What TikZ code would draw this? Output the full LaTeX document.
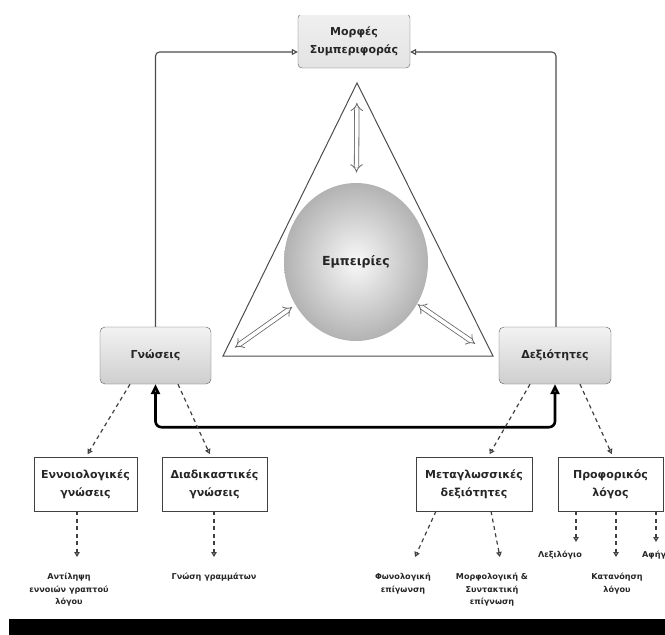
\documentclass[tikz,border=0pt]{standalone}
\usepackage{fontspec}
\setmainfont{DejaVu Sans}
\usepackage{xcolor}
\usepackage{tikz}
\usetikzlibrary{arrows.meta,calc,shapes.geometric}

\definecolor{boxtext}{HTML}{262626}
\tikzset{
  topbox/.style={draw=black!65, rounded corners=4pt, top color=gray!12, bottom color=gray!22,
    minimum width=112pt, minimum height=54pt, align=center, text=boxtext,
    font=\fontsize{11}{18}\selectfont\bfseries},
  knowbox/.style={draw=black!65, rounded corners=5pt, top color=gray!10, bottom color=gray!38,
    minimum width=111pt, minimum height=57pt, align=center, text=boxtext,
    font=\fontsize{11}{13}\selectfont\bfseries},
  subbox/.style={draw=black!75, minimum height=54pt, align=center, text=boxtext,
    font=\fontsize{11}{18}\selectfont\bfseries},
  leaf/.style={inner sep=0pt, align=center, text=boxtext,
    font=\fontsize{8.1}{12.5}\selectfont\bfseries},
  link/.style={draw=black!70, line width=1.1pt, rounded corners=4pt, -{Triangle[open,length=6pt,width=6pt]}},
  feedback/.style={line width=2.6pt, rounded corners=6pt,
    {Triangle[open,length=10pt,width=9pt]}-{Triangle[open,length=10pt,width=9pt]}},
  dasharrow/.style={draw=black!75, line width=1.2pt, dash pattern=on 4pt off 3.5pt,
    -{Triangle[open,length=5pt,width=5.5pt]}, shorten >=3pt},
  hollow/.style={draw=black!60, double=white, double distance=3.6pt, line width=0.8pt,
    {Implies}-{Implies}}
}

\begin{document}
\begin{tikzpicture}[x=1pt,y=-1pt]
    \useasboundingbox (0,0) rectangle (665,635);
    \clip (0,15) rectangle (665,635);

    \node[topbox] (morfes) at (354,41) {Μορφές\\Συμπεριφοράς};
    \node[knowbox] (gnoseis) at (155.5,355.5) {Γνώσεις};
    \node[knowbox, minimum width=112pt] (dexiotites) at (555,355.5) {Δεξιότητες};

    \coordinate (apex) at (357,83);
    \coordinate (bl) at (223,356);
    \coordinate (br) at (493,356);
    \draw[black!70, line width=1pt] (apex) -- (bl) -- (br) -- cycle;
    \node[ellipse, minimum width=144pt, minimum height=158pt, shading=radial,
      inner color=gray!5, outer color=gray!60, text=boxtext,
      font=\fontsize{12.5}{14}\selectfont\bfseries] (emp) at (356,262) {Εμπειρίες};
    \draw[hollow] ($(apex)!0.11!(emp)$) -- ($(apex)!0.5!(emp)$);
    \draw[hollow] ($(bl)!0.09!(emp)$) -- ($(bl)!0.52!(emp)$);
    \draw[hollow] ($(br)!0.13!(emp)$) -- ($(br)!0.55!(emp)$);

    \draw[link] (gnoseis.north) |- ([yshift=-11pt]morfes.west);
    \draw[link] ([xshift=1pt]dexiotites.north) |- ([yshift=-11pt]morfes.east);
    \draw[feedback] (gnoseis.south) -- ++(0,43) -| (dexiotites.south);

    \node[subbox, minimum width=103pt] (ennoiol) at (85.5,484) {Εννοιολογικές\\γνώσεις};
    \node[subbox, minimum width=105pt] (diadik) at (214.5,484) {Διαδικαστικές\\γνώσεις};
    \node[subbox, minimum width=116pt] (metagl) at (474,484) {Μεταγλωσσικές\\δεξιότητες};
    \node[subbox, minimum width=105pt] (proforikos) at (610.5,484) {Προφορικός\\λόγος};

    \draw[dasharrow] ([xshift=-25.5pt]gnoseis.south) -- ([xshift=0.5pt]ennoiol.north);
    \draw[dasharrow] ([xshift=22.5pt]gnoseis.south) -- ([xshift=-3.5pt]diadik.north);
    \draw[dasharrow] ([xshift=-25pt]dexiotites.south) -- ([xshift=14pt]metagl.north);
    \draw[dasharrow] ([xshift=25pt]dexiotites.south) -- ([xshift=2.5pt]proforikos.north);

    \node[leaf, anchor=north] (antilipsi) at (69,573) {Αντίληψη\\εννοιών γραπτού\\λόγου};
    \node[leaf, anchor=north] (gnosi) at (214,573) {Γνώση γραμμάτων};
    \node[leaf, anchor=north] (fonol) at (403,573) {Φωνολογική\\επίγωνση};
    \node[leaf, anchor=north] (morfol) at (492,573) {Μορφολογική \&\\Συντακτική\\επίγνωση};
    \node[leaf, anchor=north] (lexilogio) at (560,551) {Λεξιλόγιο};
    \node[leaf, anchor=north] (katanoisi) at (617,573) {Κατανόηση\\λόγου};
    \node[leaf, anchor=north west] (afigisi) at (642,551) {Αφήγηση};

    \draw[dasharrow, shorten >=16pt] ([xshift=-8.5pt]ennoiol.south) -- ([xshift=8pt]antilipsi.north);
    \draw[dasharrow, shorten >=16pt] ([xshift=-0.5pt]diadik.south) -- (gnosi.north);
    \draw[dasharrow, shorten >=17.6pt] ([xshift=-38pt]metagl.south) -- ([xshift=4.7pt]fonol.north);
    \draw[dasharrow, shorten >=16.3pt] ([xshift=17pt]metagl.south) -- ([xshift=11pt]morfol.north);
    \draw[dasharrow, shorten >=9pt] ([xshift=-34.5pt]proforikos.south) -- ([xshift=16pt]lexilogio.north);
    \draw[dasharrow, shorten >=16pt] ([xshift=5.5pt]proforikos.south) -- ([xshift=-1pt]katanoisi.north);
    \draw[dasharrow, shorten >=9pt] ([xshift=45.5pt]proforikos.south) -- ([xshift=14pt]afigisi.north west);

    \fill[black] (9,619) rectangle (665,635);
\end{tikzpicture}
\end{document}
